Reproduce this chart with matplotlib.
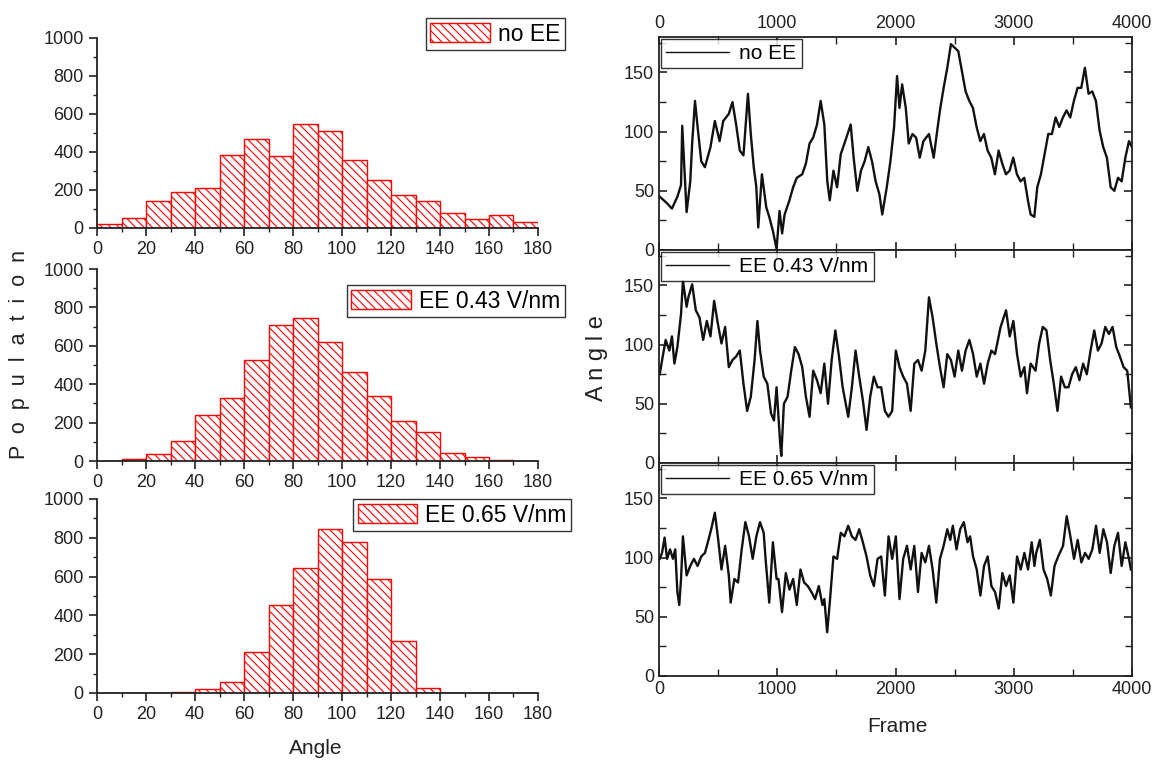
import numpy as np
import matplotlib
matplotlib.use('Agg')
import matplotlib.pyplot as plt
from matplotlib.ticker import MultipleLocator

plt.rcParams['font.family'] = ['Liberation Sans', 'DejaVu Sans']
plt.rcParams['hatch.color'] = 'red'
plt.rcParams['hatch.linewidth'] = 0.8

# histogram counts, bins of 10 degrees from 0 to 180
bin_left = list(range(0, 180, 10))
hist_noee = [22, 50, 144, 187, 211, 385, 468, 381, 548, 513, 360, 250, 175, 144, 81, 49, 71, 33]
hist_043 = [2, 10, 38, 106, 240, 328, 526, 708, 747, 618, 465, 340, 207, 149, 40, 21, 3, 0]
hist_065 = [0, 0, 0, 3, 23, 54, 212, 455, 642, 845, 780, 587, 269, 24, 0, 0, 0, 0]
hist_labels = ['no EE', 'EE 0.43 V/nm', 'EE 0.65 V/nm']

# angle vs frame traces
fr_noee = [6, 62, 109, 155, 186, 196, 233, 264, 280, 304, 326, 357, 388, 435, 472, 512, 543, 590, 621, 652,
           683, 714, 752, 776, 801, 823, 839, 870, 907, 932, 963, 994, 1019, 1041, 1062, 1103, 1134, 1165, 1211, 1242,
           1273, 1304, 1336, 1367, 1398, 1423, 1444, 1475, 1506, 1537, 1568, 1621, 1646, 1677, 1708, 1739, 1770, 1801, 1832, 1864,
           1888, 1926, 1957, 1988, 2013, 2034, 2056, 2087, 2112, 2143, 2174, 2205, 2236, 2283, 2323, 2345, 2376, 2407, 2438, 2469,
           2500, 2531, 2562, 2593, 2624, 2655, 2686, 2717, 2748, 2779, 2810, 2841, 2872, 2903, 2934, 2965, 2996, 3027, 3058, 3089,
           3120, 3143, 3174, 3199, 3230, 3261, 3292, 3323, 3354, 3385, 3416, 3447, 3478, 3509, 3540, 3571, 3602, 3633, 3664, 3695,
           3726, 3757, 3788, 3820, 3851, 3882, 3913, 3944, 3975, 4000]
ang_noee = [45, 40, 35, 45, 55, 105, 32, 58, 90, 126, 104, 75, 70, 87, 109, 92, 109, 115, 125, 106,
            84, 80, 132, 98, 70, 53, 19, 64, 36, 28, 16, 1, 33, 14, 30, 42, 53, 61, 64, 73,
            90, 95, 106, 126, 106, 58, 42, 67, 53, 81, 90, 106, 78, 50, 67, 75, 87, 75, 58, 47,
            30, 53, 75, 104, 147, 120, 140, 120, 90, 98, 95, 78, 92, 98, 78, 95, 118, 137, 154, 174,
            171, 168, 151, 134, 126, 120, 104, 92, 98, 84, 78, 64, 84, 73, 64, 67, 78, 64, 58, 61,
            42, 30, 28, 53, 64, 81, 98, 98, 112, 104, 112, 118, 112, 126, 137, 137, 154, 132, 134, 126,
            101, 87, 78, 53, 50, 61, 58, 78, 92, 87]

fr_043 = [6, 31, 56, 87, 109, 130, 155, 186, 202, 233, 248, 280, 311, 342, 373, 404, 435, 466, 497, 528,
          559, 590, 621, 652, 683, 714, 745, 776, 808, 832, 854, 885, 916, 947, 972, 994, 1025, 1034, 1056, 1087,
          1118, 1149, 1180, 1211, 1242, 1273, 1304, 1336, 1367, 1398, 1429, 1460, 1491, 1522, 1553, 1600, 1631, 1662, 1693, 1724,
          1755, 1786, 1817, 1848, 1879, 1910, 1941, 1972, 2003, 2034, 2065, 2097, 2128, 2159, 2190, 2221, 2252, 2283, 2314, 2345,
          2376, 2407, 2438, 2469, 2500, 2531, 2562, 2593, 2625, 2656, 2687, 2718, 2749, 2780, 2811, 2842, 2889, 2935, 2966, 2997,
          3028, 3059, 3090, 3112, 3143, 3184, 3215, 3246, 3277, 3308, 3339, 3370, 3401, 3432, 3463, 3494, 3525, 3556, 3587, 3618,
          3650, 3681, 3712, 3743, 3774, 3805, 3836, 3867, 3898, 3929, 3960, 3991]
ang_043 = [75, 90, 104, 95, 107, 84, 98, 126, 154, 132, 140, 151, 129, 123, 104, 120, 107, 137, 118, 101,
           115, 81, 87, 90, 95, 67, 44, 56, 87, 120, 95, 73, 67, 42, 36, 64, 16, 6, 50, 56,
           78, 98, 92, 81, 56, 39, 78, 70, 59, 84, 50, 87, 112, 90, 64, 39, 64, 95, 73, 53,
           28, 56, 73, 64, 64, 44, 39, 44, 95, 81, 73, 67, 44, 84, 87, 78, 95, 140, 123, 101,
           81, 64, 92, 87, 73, 95, 78, 95, 104, 92, 73, 84, 67, 84, 95, 92, 115, 129, 107, 120,
           92, 73, 81, 59, 84, 78, 101, 115, 112, 87, 67, 44, 73, 64, 64, 75, 81, 70, 84, 75,
           95, 112, 95, 101, 115, 109, 115, 98, 90, 81, 78, 47]

fr_065 = [6, 25, 47, 68, 93, 118, 137, 155, 171, 186, 202, 233, 264, 295, 326, 357, 388, 410, 441, 472,
          497, 528, 559, 590, 606, 637, 668, 699, 730, 761, 792, 823, 854, 885, 901, 932, 963, 994, 1010, 1040,
          1072, 1103, 1134, 1165, 1196, 1227, 1258, 1289, 1320, 1351, 1382, 1398, 1422, 1444, 1475, 1506, 1537, 1568, 1600, 1631,
          1662, 1693, 1724, 1755, 1786, 1817, 1848, 1879, 1910, 1941, 1972, 2003, 2034, 2065, 2097, 2128, 2159, 2190, 2221, 2252,
          2283, 2314, 2345, 2376, 2407, 2438, 2463, 2485, 2516, 2547, 2578, 2609, 2631, 2656, 2687, 2718, 2749, 2780, 2811, 2842,
          2873, 2904, 2935, 2966, 2997, 3028, 3059, 3090, 3121, 3152, 3175, 3190, 3221, 3252, 3283, 3314, 3345, 3376, 3417, 3448,
          3479, 3510, 3541, 3572, 3603, 3634, 3665, 3696, 3727, 3758, 3789, 3820, 3851, 3882, 3913, 3944, 3975, 3991]
ang_065 = [99, 104, 117, 99, 107, 99, 107, 71, 60, 82, 118, 85, 93, 99, 93, 101, 104, 112, 124, 138,
           118, 90, 110, 85, 62, 82, 79, 107, 130, 118, 99, 118, 130, 121, 99, 62, 113, 82, 82, 54,
           87, 73, 82, 60, 90, 79, 76, 71, 65, 76, 60, 65, 37, 62, 101, 99, 121, 118, 127, 118,
           115, 124, 113, 101, 85, 76, 99, 101, 68, 118, 99, 118, 65, 99, 110, 90, 110, 71, 104, 96,
           110, 90, 62, 99, 110, 124, 115, 127, 107, 124, 130, 113, 118, 101, 90, 68, 93, 101, 76, 71,
           57, 87, 76, 85, 62, 101, 90, 104, 90, 113, 93, 104, 115, 90, 82, 68, 93, 101, 110, 135,
           118, 99, 115, 96, 104, 99, 107, 127, 104, 124, 113, 87, 110, 121, 93, 113, 99, 90]

traces = [(fr_noee, ang_noee), (fr_043, ang_043), (fr_065, ang_065)]

fig = plt.figure(figsize=(11.54, 7.61), dpi=100)

# left column: histograms
left_boxes = [[0.0841, 0.7004, 0.3821, 0.2497],
              [0.0841, 0.3942, 0.3821, 0.2523],
              [0.0841, 0.0894, 0.3821, 0.2549]]
leg_anchor = [(1.061, 1.105), (1.061, 0.917), (1.075, 1.0)]
for box, counts, lab, anc in zip(left_boxes, [hist_noee, hist_043, hist_065], hist_labels, leg_anchor):
    ax = fig.add_axes(box)
    ax.bar(bin_left, counts, width=10, align='edge', facecolor='white',
           edgecolor='red', hatch='\\\\\\\\', linewidth=1.0, label=lab)
    ax.set_xlim(0, 180)
    ax.set_ylim(0, 1000)
    ax.xaxis.set_major_locator(MultipleLocator(20))
    ax.xaxis.set_minor_locator(MultipleLocator(10))
    ax.yaxis.set_major_locator(MultipleLocator(200))
    ax.yaxis.set_minor_locator(MultipleLocator(100))
    ax.spines['top'].set_visible(False)
    ax.spines['right'].set_visible(False)
    for s in ['left', 'bottom']:
        ax.spines[s].set_linewidth(1.3)
        ax.spines[s].set_color('#222222')
    ax.tick_params(which='major', direction='out', length=6, width=1.2, labelsize=13, colors='#222222')
    ax.tick_params(which='minor', direction='out', length=3, width=1.0, colors='#222222')
    leg = ax.legend(loc='upper right', bbox_to_anchor=anc, fontsize=16.5, frameon=True,
                    fancybox=False, edgecolor='black', borderpad=0.2, handlelength=2.6,
                    handleheight=0.9, handletextpad=0.35, borderaxespad=0)
    leg.get_frame().set_linewidth(1.0)

fig.text(20 / 1154, 1 - 355 / 761, 'P  o  p  u  l  a  t  i  o  n', rotation=90, fontsize=15.5,
         ha='center', va='center', color='#222222')
fig.text(316 / 1154, 1 - 748 / 761, 'Angle', fontsize=15, ha='center', va='center', color='#222222')

# right column: traces
right_bottoms = [0.6715, 0.3916, 0.1117]
for i, ((fr, ang), lab) in enumerate(zip(traces, hist_labels)):
    ax = fig.add_axes([0.5711, right_bottoms[i], 0.4098, 0.2799])
    ax.plot(fr, ang, color='#111111', linewidth=1.7, label=lab)
    ax.set_xlim(0, 4000)
    ax.set_ylim(0, 180)
    ax.xaxis.set_major_locator(MultipleLocator(1000))
    ax.xaxis.set_minor_locator(MultipleLocator(500))
    ax.yaxis.set_major_locator(MultipleLocator(50))
    ax.yaxis.set_minor_locator(MultipleLocator(25))
    for s in ax.spines.values():
        s.set_linewidth(1.3)
        s.set_color('#222222')
    ax.tick_params(which='both', direction='in', top=True, right=True, colors='#222222')
    ax.tick_params(which='major', length=6, width=1.2, labelsize=13)
    ax.tick_params(which='minor', length=5, width=1.0)
    if i == 0:
        ax.tick_params(labeltop=True, labelbottom=False)
    elif i == 1:
        ax.tick_params(labelbottom=False)
    leg = ax.legend(loc='upper left', bbox_to_anchor=(0.0, 1.0), fontsize=15, frameon=True,
                    fancybox=False, edgecolor='black', borderpad=0.25, handlelength=3.0,
                    handletextpad=0.5, borderaxespad=0.1)
    leg.get_frame().set_linewidth(1.0)
    for ln in leg.get_lines():
        ln.set_linewidth(1.0)

fig.text(597 / 1154, 1 - 358 / 761, 'A n g l e', rotation=90, fontsize=17,
         ha='center', va='center', color='#222222')
fig.text(897 / 1154, 1 - 727 / 761, 'Frame', fontsize=15, ha='center', va='center', color='#222222')

fig.savefig('out.png', dpi=100)
